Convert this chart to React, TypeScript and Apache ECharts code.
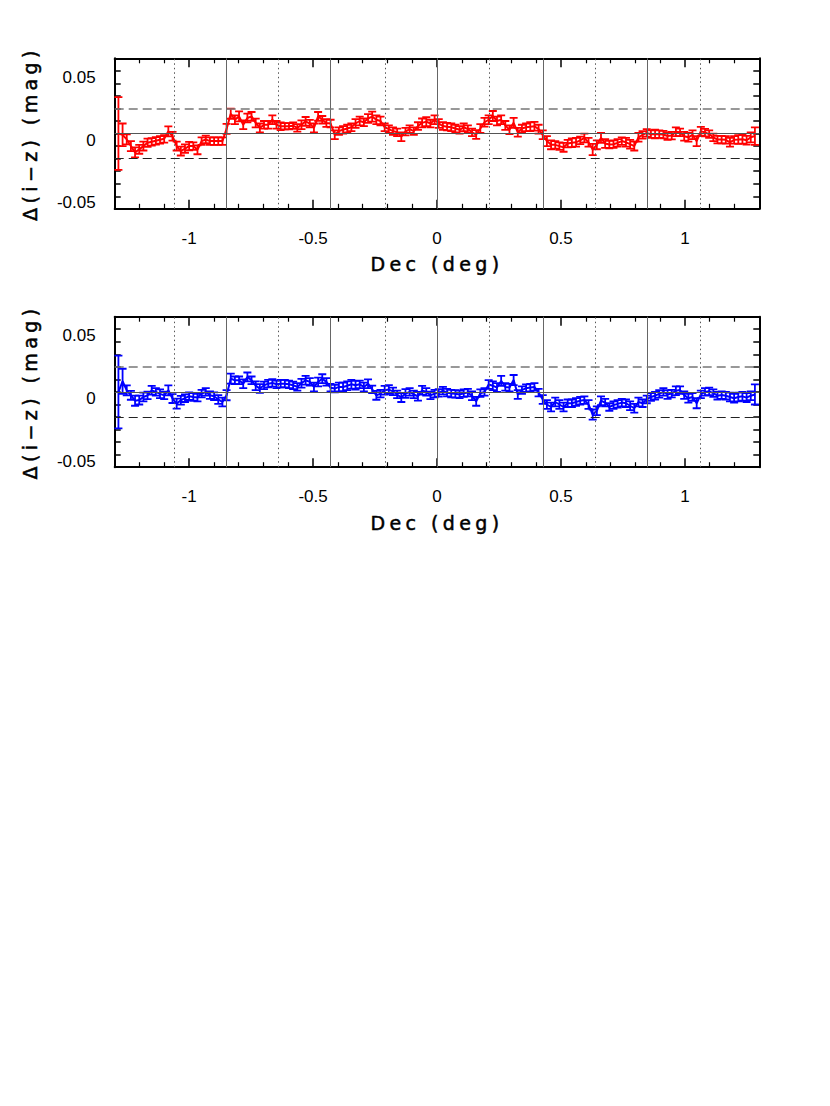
import React, { useEffect, useRef } from "react";
import * as echarts from "echarts";

// Bin centres of Dec (deg): start + step * index
const DEC_START = -1.285;
const DEC_STEP = 0.01678;

// Top panel (red), Δ(i−z) in mmag
const RED_MMAG = [
  0, -1, -4.7, -10, -15, -12.6, -10, -7.4, -6.6, -5.8,
  -5, -4.2, 1.8, -2.1, -10, -14, -12, -10, -10, -13,
  -6, -4.7, -6, -6, -6, -6, 3.7, 15.8, 11, 13.7,
  7, 12.4, 13.7, 8.4, 4.5, 7, 7, 11, 7, 5.8,
  5.8, 5.8, 6.3, 4.5, 7, 9.7, 7.9, 4.5, 13.7, 11,
  8.4, 8, -1, 2, 3, 4, 5, 8, 10, 9,
  12, 13.5, 11, 10, 5, 3.5, 2, 1, -2.5, 1.5,
  3.5, 2, 6, 8.5, 9.5, 8, 11, 8, 6, 5.5,
  5, 4, 3, 5, 3.5, 1, -0.8, 4, 9, 11,
  14, 10, 11, 6.5, 3, 8.5, 1, 4, 5, 5.5,
  5.8, 3.5, -1, -6, -9, -9, -10, -11, -8, -7.4,
  -7, -5.5, -3.5, -7, -12.7, -9, -3.5, -8, -8.8, -8.5,
  -7.4, -6, -7, -8.5, -10, -3, -1, 0.5, -0.5, -0.3,
  -0.5, -0.8, -2, -1.6, 1.5, 1, -2.1, -3, -1, -6,
  1.9, 0.8, -0.5, -3, -4.8, -4.8, -5, -7, -5, -4.8,
  -4.5, -5.3, -3, -2,
];
const RED_ERR = [
  29, 9, 4, 4, 4, 3.5, 3.5, 3.3, 3, 3,
  3, 3, 4, 3.5, 3.5, 3.5, 3.3, 3.3, 3, 3.5,
  3, 3, 3, 3, 3, 3, 4, 4, 3.5, 4,
  3.5, 3.5, 3.5, 3.5, 3.5, 3, 3, 3.5, 3, 3,
  2.5, 2.5, 2.5, 3, 3.5, 3.5, 3, 3.5, 3.5, 3,
  3, 3, 3.5, 3, 3, 3, 3, 3.5, 3.5, 3,
  3.5, 4, 3.5, 3.5, 3, 3, 3, 3, 3.5, 3,
  3, 3, 3, 3.5, 3.5, 3, 3.5, 3.5, 3, 3,
  3, 3, 3, 3, 3, 3, 3.5, 3.5, 3.5, 3.5,
  4, 3.5, 3.5, 3.5, 3.5, 4, 3.5, 3, 3, 3.5,
  3.5, 3.5, 3.5, 4, 3.5, 3, 3, 3.5, 3, 3.5,
  3.5, 3, 3.5, 3.5, 4.5, 3.5, 4, 3.5, 3, 3,
  3, 3, 3.5, 3.5, 3.5, 3.5, 3, 3, 3, 3.5,
  3, 3, 3, 3, 3.5, 3, 3.5, 3.5, 3.5, 4,
  3.5, 3, 3, 3, 3, 3, 3, 3.5, 3, 3.5,
  3.5, 3.5, 4, 7,
];

// Bottom panel (blue), Δ(i−z) in mmag
const BLUE_MMAG = [
  0, 8.5, 1.3, -2.7, -7, -6.5, -4, -2.7, 1.3, 0,
  -1.5, -2.7, 1.3, -5.3, -9.3, -6.6, -5, -3.4, -4, -4.5,
  -1.3, 0, -2.6, -3.4, -6, -8, -2.6, 10.6, 9.3, 9.3,
  6.6, 12, 9.3, 5, 2.7, 5.3, 6.6, 7.2, 6.1, 6.6,
  6.6, 6.1, 5.3, 4, 7, 9.3, 8, 4, 8, 10.6,
  8, 3.4, 2.7, 4, 4, 5, 6.1, 5.3, 6.1, 4,
  6.6, 2, -2.7, -1.3, 1.3, 1.9, 0.5, -2, -4.5, -1.3,
  0, -2, -3.4, 1.3, 0, -2.7, -1.3, -0.8, 1, -0.5,
  -1.3, -1.5, -2, -1, -0.5, -3, -7.5, -1, 0, 6,
  5, 3.5, 8.8, 4, 3.5, 9.5, -2, 1.5, 3, 3.5,
  4, -0.5, -6, -10, -12, -8, -10, -12, -9, -9,
  -8, -7, -6.5, -10, -18, -15, -7, -8.5, -12, -10.5,
  -9.5, -8.5, -9, -11, -13, -8, -9, -6, -4, -3,
  -1.5, 0, -2, -1.3, 1, 1.5, -2.5, -5, -4, -9,
  -2, 0, 0.5, -1, -3, -2.5, -3, -4, -5, -4,
  -3.5, -4.5, -3, -2,
];
const BLUE_ERR = [
  29, 10, 4, 3.5, 4, 3.5, 3.5, 3, 3.5, 3,
  3.5, 3, 4, 3.5, 4, 3.5, 3, 3, 3, 3,
  3, 3, 3, 3, 3.5, 3.5, 4, 4, 3, 3,
  3.5, 3.5, 3, 3.5, 3.5, 3, 3, 3, 3, 3,
  3, 3, 3, 3, 3.5, 3.5, 3, 3.5, 3.5, 3.5,
  3, 3, 3, 3.5, 3.5, 3.5, 3.5, 3.5, 3, 3.5,
  3.5, 3, 3.5, 3, 3.5, 3.5, 3, 3, 3.5, 3.5,
  3, 3, 3.5, 3.5, 3, 3, 3, 3, 3, 3,
  3, 3, 3, 3, 3, 3.5, 3.5, 3, 3, 3.5,
  3.5, 3.5, 4, 3, 3, 4, 3.5, 3, 3, 3,
  3, 3, 3.5, 3.5, 3.5, 3.5, 3.5, 3.5, 3, 3,
  3, 3, 3, 3.5, 4, 3.5, 3.5, 3, 3, 3,
  3, 3, 3, 3.5, 3.5, 3.5, 3, 3, 3, 3,
  3, 3, 3.5, 3, 3.5, 3, 3, 3.5, 3, 4,
  3, 3, 3, 3, 3, 3, 3, 3.5, 3.5, 3.5,
  3.5, 3.5, 3.5, 8,
];

// Axes and reference lines
const X_MAJOR = [-1, -0.5, 0, 0.5, 1];
const X_MINOR = [
  -1.2, -1.1, -0.9, -0.8, -0.7, -0.6, -0.4, -0.3, -0.2, -0.1,
  0.1, 0.2, 0.3, 0.4, 0.6, 0.7, 0.8, 0.9, 1.1, 1.2,
];
const Y_TICKS = [-0.05, -0.04, -0.03, -0.02, -0.01, 0, 0.01, 0.02, 0.03, 0.04, 0.05];
const Y_LABELS = [-0.05, 0, 0.05];
const SOLID_V = [-0.847, -0.427, 0, 0.427, 0.847];
const DOTTED_V = [-1.057, -0.639, -0.208, 0.208, 0.639, 1.057];
const DASHED_H = [0.02, -0.02];

const X_TITLE = "Dec (deg)";
const Y_TITLE = "Δ(i−z) (mag)";

const X_MIN = -1.3;
const X_MAX = 1.3;
const Y_MIN = -0.06;
const Y_MAX = 0.06;

const GRID_LEFT = 114.7;
const GRID_WIDTH = 644.6;
const GRID_TOPS = [58.3, 316.7];
const GRID_HEIGHT = 150.5;

const TICK_FONT = "Liberation Sans";
const TITLE_FONT = "DejaVu Sans";

function App() {
  const ref = useRef<HTMLDivElement>(null);

  useEffect(() => {
    if (!ref.current) return;
    const chart = echarts.init(ref.current, undefined, { renderer: "svg" });

    const panels = [
      { vals: RED_MMAG, errs: RED_ERR, color: "#ff0000" },
      { vals: BLUE_MMAG, errs: BLUE_ERR, color: "#0000ff" },
    ];

    const grids: any[] = [];
    const xAxes: any[] = [];
    const yAxes: any[] = [];
    const series: any[] = [];
    const graphics: any[] = [];

    panels.forEach((p, g) => {
      grids.push({
        left: GRID_LEFT,
        top: GRID_TOPS[g],
        width: GRID_WIDTH,
        height: GRID_HEIGHT,
        show: false,
      });
      const xBase = {
        gridIndex: g,
        type: "value",
        min: X_MIN,
        max: X_MAX,
        splitLine: { show: false },
      };
      // bottom major (with labels)
      xAxes.push({
        ...xBase,
        position: "bottom",
        axisLine: { show: true, onZero: false, lineStyle: { color: "#000", width: 2 } },
        axisTick: {
          show: true,
          inside: true,
          length: 9,
          customValues: X_MAJOR,
          lineStyle: { color: "#000", width: 1.5 },
        },
        axisLabel: {
          show: true,
          customValues: X_MAJOR,
          margin: 21,
          color: "#000",
          fontSize: 17,
          fontFamily: TICK_FONT,
          formatter: (v: number) => String(v),
        },
      });
      // bottom minor
      xAxes.push({
        ...xBase,
        position: "bottom",
        axisLine: { show: false, onZero: false },
        axisTick: {
          show: true,
          inside: true,
          length: 5,
          customValues: X_MINOR,
          lineStyle: { color: "#000", width: 1.2 },
        },
        axisLabel: { show: false },
      });
      // top major
      xAxes.push({
        ...xBase,
        position: "top",
        axisLine: { show: true, onZero: false, lineStyle: { color: "#000", width: 2 } },
        axisTick: {
          show: true,
          inside: true,
          length: 9,
          customValues: X_MAJOR,
          lineStyle: { color: "#000", width: 1.5 },
        },
        axisLabel: { show: false },
      });
      // top minor
      xAxes.push({
        ...xBase,
        position: "top",
        axisLine: { show: false, onZero: false },
        axisTick: {
          show: true,
          inside: true,
          length: 5,
          customValues: X_MINOR,
          lineStyle: { color: "#000", width: 1.2 },
        },
        axisLabel: { show: false },
      });

      const yBase = {
        gridIndex: g,
        type: "value",
        min: Y_MIN,
        max: Y_MAX,
        splitLine: { show: false },
      };
      yAxes.push({
        ...yBase,
        position: "left",
        axisLine: { show: true, onZero: false, lineStyle: { color: "#000", width: 2 } },
        axisTick: {
          show: true,
          inside: true,
          length: 6,
          customValues: Y_TICKS,
          lineStyle: { color: "#000", width: 1.5 },
        },
        axisLabel: {
          show: true,
          customValues: Y_LABELS,
          margin: 19,
          color: "#000",
          fontSize: 17,
          lineHeight: 13,
          verticalAlign: "top",
          fontFamily: TICK_FONT,
          formatter: (v: number) => String(v),
        },
      });
      yAxes.push({
        ...yBase,
        position: "right",
        axisLine: { show: true, onZero: false, lineStyle: { color: "#000", width: 2 } },
        axisTick: {
          show: true,
          inside: true,
          length: 6,
          customValues: Y_TICKS,
          lineStyle: { color: "#000", width: 1.5 },
        },
        axisLabel: { show: false },
      });

      const pts = p.vals.map((v, i) => [DEC_START + DEC_STEP * i, v / 1000]);
      const errPts = p.vals.map((v, i) => [DEC_START + DEC_STEP * i, v / 1000, p.errs[i] / 1000]);

      const mlData: any[] = [
        ...SOLID_V.map((v) => ({ xAxis: v, lineStyle: { type: "solid", color: "#666", width: 1 } })),
        ...DOTTED_V.map((v) => ({ xAxis: v, lineStyle: { type: [1.5, 3], color: "#555", width: 1 } })),
        { yAxis: 0, lineStyle: { type: "solid", color: "#555", width: 1.2 } },
        { yAxis: DASHED_H[0], lineStyle: { type: [9, 5], color: "#777", width: 1.5 } },
        { yAxis: DASHED_H[1], lineStyle: { type: [9, 5], color: "#222", width: 1.2 } },
      ];

      // reference lines
      series.push({
        type: "line",
        xAxisIndex: g * 4,
        yAxisIndex: g * 2,
        data: pts,
        symbol: "none",
        showSymbol: false,
        lineStyle: { opacity: 0 },
        silent: true,
        z: 1,
        markLine: {
          silent: true,
          symbol: ["none", "none"],
          label: { show: false },
          emphasis: { disabled: true },
          data: mlData,
        },
      });
      // error bars
      series.push({
        type: "custom",
        xAxisIndex: g * 4,
        yAxisIndex: g * 2,
        data: errPts,
        encode: { x: 0, y: 1 },
        clip: true,
        silent: true,
        z: 3,
        renderItem: (_params: any, api: any) => {
          const x = api.value(0);
          const y = api.value(1);
          const e = api.value(2);
          const a = api.coord([x, y + e]);
          const b = api.coord([x, y - e]);
          const st = { stroke: p.color, lineWidth: 1.8 };
          const hw = 4;
          return {
            type: "group",
            children: [
              { type: "line", shape: { x1: a[0], y1: a[1], x2: b[0], y2: b[1] }, style: st },
              { type: "line", shape: { x1: a[0] - hw, y1: a[1], x2: a[0] + hw, y2: a[1] }, style: st },
              { type: "line", shape: { x1: b[0] - hw, y1: b[1], x2: b[0] + hw, y2: b[1] }, style: st },
            ],
          };
        },
      });
      // data line
      series.push({
        type: "line",
        xAxisIndex: g * 4,
        yAxisIndex: g * 2,
        data: pts,
        symbol: "none",
        showSymbol: false,
        clip: true,
        silent: true,
        lineStyle: { color: p.color, width: 2 },
        itemStyle: { color: p.color },
        z: 4,
      });

      const top = GRID_TOPS[g];
      graphics.push({
        type: "text",
        x: 437,
        y: top + 206,
        silent: true,
        style: {
          text: X_TITLE,
          font: `19px "${TITLE_FONT}"`,
          fill: "#000",
          stroke: "#000",
          lineWidth: 0.5,
          align: "center",
          verticalAlign: "middle",
          textAlign: "center",
          textVerticalAlign: "middle",
        },
      });
      graphics.push({
        type: "text",
        x: 30,
        y: top + GRID_HEIGHT / 2,
        rotation: Math.PI / 2,
        silent: true,
        style: {
          text: Y_TITLE,
          font: `19px "${TITLE_FONT}"`,
          fill: "#000",
          stroke: "#000",
          lineWidth: 0.5,
          align: "center",
          verticalAlign: "middle",
          textAlign: "center",
          textVerticalAlign: "middle",
        },
      });
    });

    chart.setOption({
      animation: false,
      backgroundColor: "#fff",
      grid: grids,
      xAxis: xAxes,
      yAxis: yAxes,
      series,
      graphic: graphics,
    });

    // widen the letter spacing of the axis titles, as in the reference
    const fix = () => {
      if (!ref.current) return;
      ref.current.querySelectorAll("text").forEach((t) => {
        const s = t.textContent || "";
        if (s === X_TITLE) (t as SVGTextElement).style.letterSpacing = "4.4px";
        if (s === Y_TITLE) (t as SVGTextElement).style.letterSpacing = "4.4px";
      });
    };
    fix();
    chart.on("finished", fix);

    return () => {
      chart.dispose();
    };
  }, []);

  return (
    <div
      ref={ref}
      style={{ position: "absolute", left: 0, top: 0, width: 830, height: 1106, background: "#fff" }}
    />
  );
}

export default App;
